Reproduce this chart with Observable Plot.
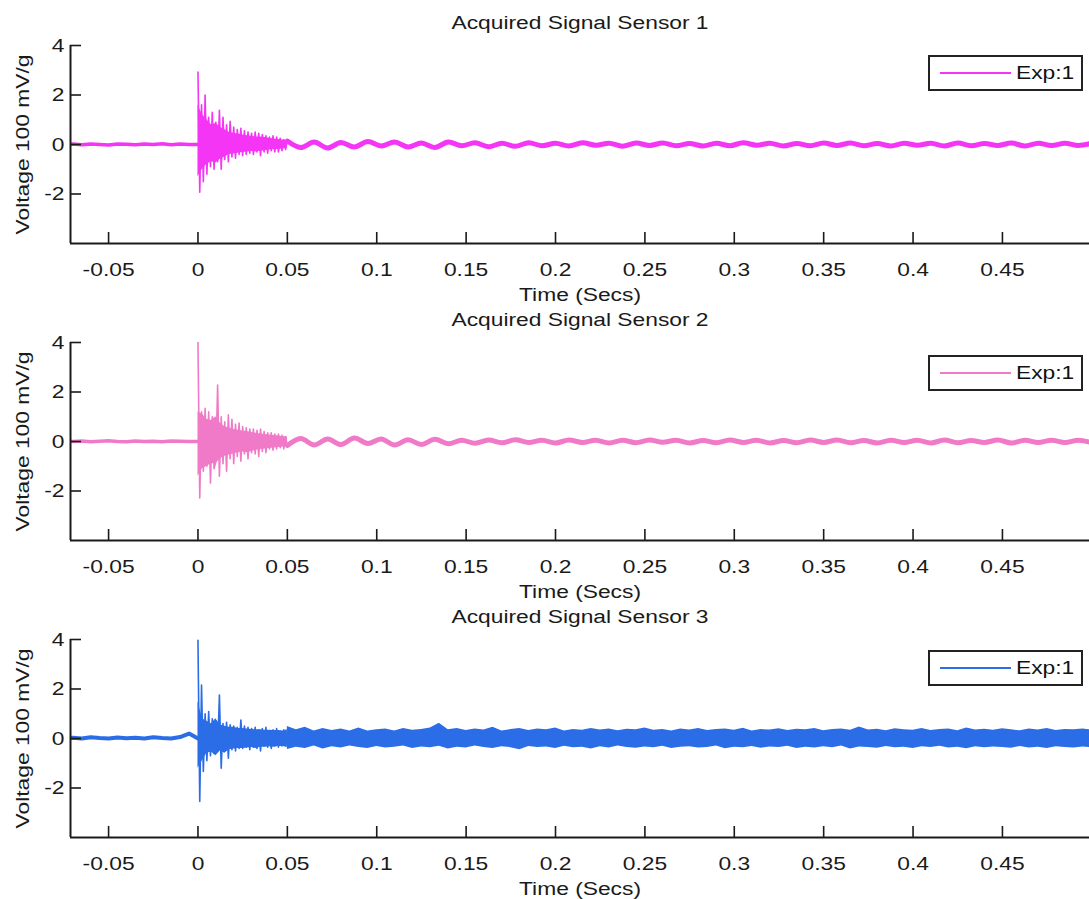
<!DOCTYPE html>
<html><head><meta charset="utf-8">
<script src="https://cdn.jsdelivr.net/npm/d3@7"></script>
<script src="https://cdn.jsdelivr.net/npm/@observablehq/plot@0.6"></script>
<style>
html,body{margin:0;padding:0;background:#fff;overflow:hidden;}
#chart{height:899px;}
.panel{position:relative;width:1089px;height:297px;}
.panel svg{display:block;overflow:visible;}
.legend{position:absolute;left:928px;width:151px;height:32px;border:2px solid #222;background:#fff;font-family:"Liberation Sans",Arial,sans-serif;font-size:19px;color:#111;z-index:2;}
.legend .ln{position:absolute;left:10px;top:15px;width:71px;height:2px;}
.legend .tx{position:absolute;left:86px;top:4px;line-height:24px;transform:scaleX(1.2);transform-origin:left center;}
</style>
</head><body>
<div id="chart"></div>
<script>
// ---------- data ----------
const titles = ["Acquired Signal Sensor 1", "Acquired Signal Sensor 2", "Acquired Signal Sensor 3"];
const colors = ["#f535f5", "#f07ac8", "#2b6de6"];
const legendLabel = "Exp:1";
const xLabel = "Time (Secs)";
const yLabel = "Voltage 100 mV/g";
const xDomain = [-0.0713, 0.4987];
const yDomain = [-4, 4];
const xTicks = [-0.05, 0, 0.05, 0.1, 0.15, 0.2, 0.25, 0.3, 0.35, 0.4, 0.45];
const yTicks = [-2, 0, 2, 4];

// sample times (s)
const preT = d3.range(16).map(i => -0.075 + i * 0.005);
const burstT = d3.range(51).map(i => i * 0.001);
const envT = d3.range(21).map(i => i * 0.0025);
const steadyT = d3.range(61).map(i => 0.05 + i * 0.0075);
const bandT = d3.range(91).map(i => 0.05 + i * 0.005);

// Sensor 1
const s1Pre = [0.0,0.02,-0.01,0.02,0.0,-0.02,0.02,0.01,-0.01,0.02,0.0,0.03,-0.01,0.02,0.0,0.0];
const s1Burst = [2.93,-1.93,1.6,-1.5,2.0,-1.2,1.1,-0.9,1.3,-1.0,
  0.9,-0.7,1.38,-1.0,1.1,-0.6,0.8,-0.7,0.94,-0.5,
  0.7,-0.55,0.6,-0.4,0.65,-0.45,0.55,-0.4,0.5,-0.35,
  0.45,-0.4,0.5,-0.3,0.45,-0.45,0.4,-0.3,0.35,-0.35,
  0.3,-0.25,0.35,-0.3,0.3,-0.3,0.25,-0.25,0.2,-0.2,0.15];
const s1EnvUp = [1.6,1.2,1.0,0.8,0.85,0.7,0.6,0.5,0.45,0.42,0.38,0.35,0.33,0.3,0.3,0.28,0.25,0.22,0.2,0.18,0.15];
const s1EnvLo = [-1.3,-1.0,-0.8,-0.7,-0.75,-0.6,-0.5,-0.4,-0.38,-0.35,-0.32,-0.3,-0.28,-0.3,-0.27,-0.25,-0.22,-0.2,-0.2,-0.18,-0.15];
const s1Steady = [0.14,-0.12,0.10,-0.14,0.08,-0.10,0.12,-0.06,0.10,-0.10,
  0.06,-0.12,0.10,-0.05,0.07,-0.09,0.05,-0.07,0.07,-0.05,
  0.05,-0.06,0.07,-0.03,0.05,-0.07,0.06,-0.04,0.06,-0.05,
  0.04,-0.06,0.05,-0.05,0.07,-0.03,0.05,-0.06,0.04,-0.05,
  0.06,-0.04,0.06,-0.05,0.04,-0.06,0.05,-0.03,0.05,-0.06,
  0.06,-0.05,0.04,-0.04,0.06,-0.06,0.05,-0.04,0.05,-0.04,0.05];

// Sensor 2
const s2Pre = [0.02,0.0,0.02,-0.01,0.01,0.03,0.0,-0.01,0.02,0.0,0.01,-0.01,0.02,0.01,0.0,0.0];
const s2Burst = [4.0,-2.28,1.2,-1.2,1.34,-1.0,1.2,-1.68,1.0,-1.1,
  -0.8,2.28,-1.4,1.0,-0.9,0.8,-1.2,1.08,-0.7,0.9,
  -0.9,0.7,-0.6,0.75,-0.8,0.6,-0.5,0.55,-0.7,0.5,
  -0.45,0.5,-0.5,0.45,-0.6,0.5,-0.4,0.4,-0.45,0.35,
  -0.3,0.35,-0.35,0.3,-0.3,0.3,-0.25,0.25,-0.3,0.2,-0.2];
const s2EnvUp = [1.2,1.1,0.9,0.85,1.0,0.75,0.6,0.55,0.5,0.45,0.42,0.4,0.36,0.33,0.3,0.28,0.26,0.24,0.22,0.2,0.18];
const s2EnvLo = [-1.4,-1.1,-1.0,-0.9,-0.9,-0.7,-0.6,-0.55,-0.5,-0.45,-0.42,-0.45,-0.4,-0.35,-0.32,-0.3,-0.28,-0.26,-0.24,-0.22,-0.2];
const s2Steady = [-0.16,0.12,-0.14,0.10,-0.12,0.14,-0.08,0.10,-0.14,0.07,
  -0.12,0.09,-0.09,0.05,-0.07,0.06,-0.05,0.07,-0.04,0.05,
  -0.06,0.06,-0.04,0.05,-0.06,0.05,-0.05,0.06,-0.03,0.05,
  -0.06,0.04,-0.05,0.06,-0.04,0.05,-0.06,0.04,-0.05,0.06,
  -0.04,0.06,-0.05,0.04,-0.06,0.05,-0.04,0.05,-0.06,0.06,
  -0.05,0.04,-0.04,0.06,-0.06,0.05,-0.04,0.05,-0.04,0.05,-0.05];

// Sensor 3
const s3Pre = [0.0,0.03,0.0,0.05,0.02,0.0,0.04,0.01,0.03,0.0,0.05,0.02,0.0,0.06,0.2,0.0];
const s3Burst = [3.97,-2.54,2.16,-1.33,1.0,-0.9,1.09,-0.7,0.8,-0.6,
  0.7,-0.5,1.76,-1.2,0.6,-0.5,0.65,-0.8,0.55,-0.45,
  0.5,-0.5,0.45,-0.4,0.75,-0.4,0.5,-0.35,0.45,-0.45,
  0.4,-0.35,0.45,-0.4,0.35,-0.5,0.4,-0.3,0.45,-0.35,
  0.3,-0.4,0.35,-0.3,0.4,-0.35,0.3,-0.3,0.35,-0.3,0.3];
const s3EnvUp = [1.5,0.8,0.7,0.6,0.8,0.55,0.5,0.45,0.45,0.4,0.4,0.38,0.36,0.35,0.35,0.33,0.33,0.32,0.32,0.3,0.35];
const s3EnvLo = [-1.2,-0.9,-0.6,-0.55,-0.7,-0.5,-0.6,-0.45,-0.42,-0.4,-0.4,-0.38,-0.36,-0.4,-0.35,-0.35,-0.33,-0.35,-0.32,-0.32,-0.35];
const s3Upper = [0.48,0.35,0.45,0.30,0.40,0.32,0.38,0.30,0.42,0.30,
  0.35,0.38,0.30,0.40,0.33,0.36,0.42,0.62,0.35,0.40,
  0.32,0.38,0.34,0.45,0.30,0.36,0.40,0.32,0.38,0.35,
  0.42,0.30,0.36,0.33,0.40,0.34,0.38,0.31,0.37,0.35,
  0.42,0.33,0.36,0.30,0.38,0.34,0.40,0.32,0.36,0.38,
  0.33,0.41,0.30,0.36,0.34,0.39,0.32,0.37,0.35,0.40,
  0.31,0.36,0.38,0.33,0.46,0.34,0.37,0.31,0.39,0.35,
  0.33,0.40,0.32,0.36,0.38,0.31,0.42,0.34,0.37,0.33,
  0.39,0.35,0.31,0.38,0.34,0.40,0.32,0.36,0.35,0.38,0.34];
const s3Lower = [-0.44,-0.35,-0.40,-0.30,-0.42,-0.33,-0.38,-0.30,-0.36,-0.40,
  -0.32,-0.38,-0.35,-0.30,-0.40,-0.34,-0.37,-0.31,-0.42,-0.35,
  -0.38,-0.30,-0.36,-0.40,-0.33,-0.37,-0.45,-0.32,-0.36,-0.34,
  -0.40,-0.31,-0.37,-0.35,-0.42,-0.33,-0.38,-0.30,-0.36,-0.39,
  -0.34,-0.37,-0.31,-0.40,-0.35,-0.33,-0.38,-0.36,-0.30,-0.41,
  -0.35,-0.37,-0.32,-0.39,-0.34,-0.36,-0.31,-0.40,-0.35,-0.38,
  -0.33,-0.37,-0.30,-0.42,-0.34,-0.36,-0.39,-0.32,-0.37,-0.35,
  -0.40,-0.33,-0.36,-0.31,-0.38,-0.35,-0.41,-0.33,-0.37,-0.34,
  -0.36,-0.39,-0.32,-0.38,-0.35,-0.40,-0.33,-0.36,-0.38,-0.34,-0.37];

const legendTops = [55, 58, 56];

// ---------- drawing ----------
const W = 1089, H = 297, ML = 70, MT = 45, MB = 54;
const frameW = W - ML, frameH = H - MT - MB;
const ink = "#1a1a1a";
const font = "'Liberation Sans', Arial, sans-serif";

function seriesMarks(i) {
  const c = colors[i];
  const marks = [];
  const pre = [s1Pre, s2Pre, s3Pre][i];
  const burst = [s1Burst, s2Burst, s3Burst][i];
  const envUp = [s1EnvUp, s2EnvUp, s3EnvUp][i];
  const envLo = [s1EnvLo, s2EnvLo, s3EnvLo][i];
  if (i === 2) {
    marks.push(Plot.areaY(s3Upper, {x: (d, j) => bandT[j], y1: (d, j) => s3Lower[j], y2: d => d, fill: c, clip: true}));
    marks.push(Plot.line(pre, {x: (d, j) => preT[j], y: d => d, stroke: c, strokeWidth: 4, clip: true}));
  } else {
    const steady = [s1Steady, s2Steady][i];
    marks.push(Plot.line(pre, {x: (d, j) => preT[j], y: d => d, stroke: c, strokeWidth: 3.5, clip: true}));
    marks.push(Plot.line(steady, {x: (d, j) => steadyT[j], y: d => d, stroke: c, strokeWidth: 5, curve: "catmull-rom", clip: true}));
  }
  marks.push(Plot.areaY(envUp, {x: (d, j) => envT[j], y1: (d, j) => envLo[j], y2: d => d, fill: c, clip: true}));
  marks.push(Plot.line(burst, {x: (d, j) => burstT[j], y: d => d, stroke: c, strokeWidth: 1.6, clip: true}));
  return marks;
}

const root = document.getElementById("chart");
for (let i = 0; i < 3; i++) {
  const svg = Plot.plot({
    width: W, height: H,
    marginLeft: ML, marginRight: 0, marginTop: MT, marginBottom: MB,
    style: {fontFamily: font, fontSize: "19px", color: ink, background: "transparent", overflow: "visible"},
    x: {domain: xDomain},
    y: {domain: yDomain},
    marks: [
      ...seriesMarks(i),
      Plot.axisX({ticks: xTicks, tickSize: 0, tickPadding: 19, tickFormat: d => String(d), label: null, fill: ink}),
      Plot.axisY({ticks: yTicks, tickSize: 0, tickPadding: 6, tickFormat: d => String(d), label: null, fill: ink}),
      Plot.tickX(xTicks, {x: d => d, insetTop: frameH - 11, stroke: ink, strokeWidth: 1.6}),
      Plot.tickY(yTicks, {y: d => d, insetRight: frameW - 11, stroke: ink, strokeWidth: 1.6}),
      Plot.ruleX([xDomain[0]], {stroke: ink, strokeWidth: 2}),
      Plot.ruleY([yDomain[0]], {stroke: ink, strokeWidth: 2}),
      Plot.text([titles[i]], {text: d => d, frameAnchor: "top", dy: -23, lineAnchor: "middle", textAnchor: "middle", fill: ink}),
      Plot.text([xLabel], {text: d => d, frameAnchor: "bottom", dy: 51, lineAnchor: "middle", textAnchor: "middle", fill: ink}),
      Plot.text([yLabel], {text: d => d, frameAnchor: "left", dx: -48, rotate: -90, lineAnchor: "middle", textAnchor: "middle", fill: ink})
    ]
  });
  // widen glyphs along the text direction like the reference rendering
  svg.querySelectorAll("text").forEach(t => {
    const tr = t.getAttribute("transform");
    if (tr) t.setAttribute("transform", tr + " scale(1.2,1)");
    else {
      const x = +t.getAttribute("x") || 0, y = +t.getAttribute("y") || 0;
      t.setAttribute("transform", `translate(${x},${y}) scale(1.2,1) translate(${-x},${-y})`);
    }
  });
  const panel = document.createElement("div");
  panel.className = "panel";
  panel.appendChild(svg);
  const lg = document.createElement("div");
  lg.className = "legend";
  lg.style.top = legendTops[i] + "px";
  const ln = document.createElement("div");
  ln.className = "ln";
  ln.style.background = colors[i];
  const tx = document.createElement("span");
  tx.className = "tx";
  tx.textContent = legendLabel;
  lg.appendChild(ln); lg.appendChild(tx);
  panel.appendChild(lg);
  root.appendChild(panel);
}
</script>
</body></html>
